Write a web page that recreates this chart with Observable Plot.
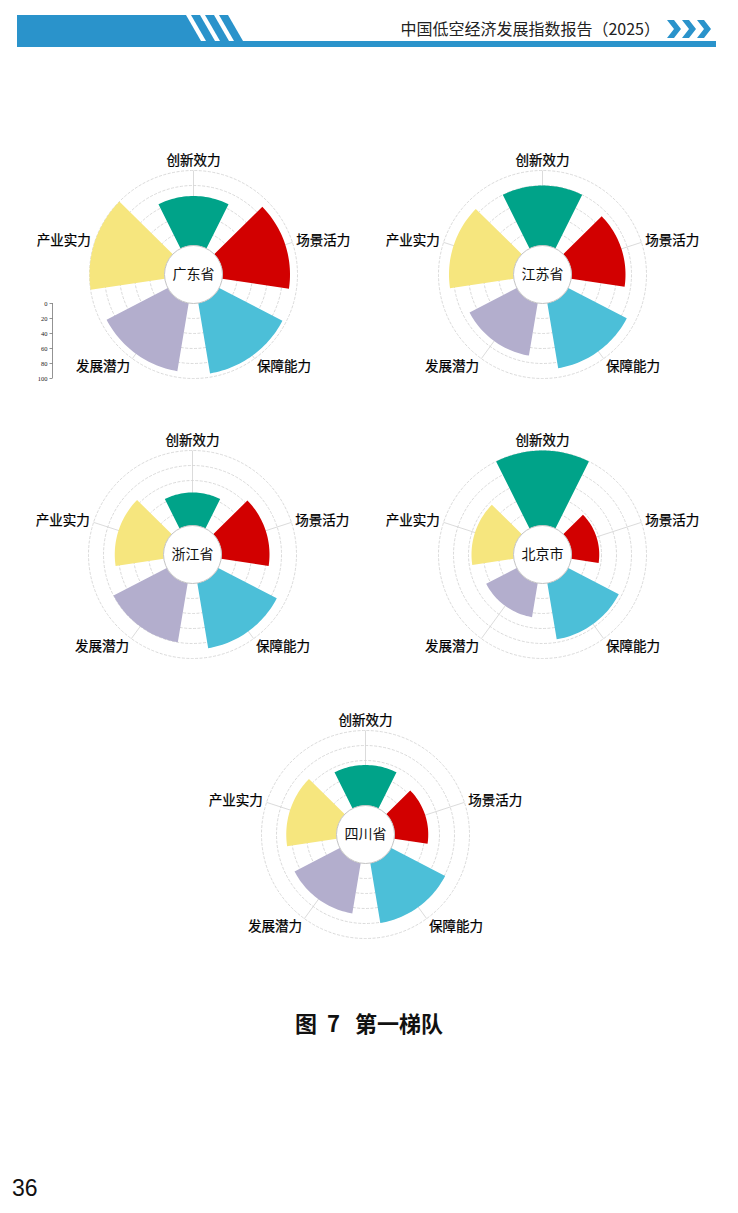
<!DOCTYPE html>
<html><head><meta charset="utf-8">
<script src="https://cdn.jsdelivr.net/npm/d3@7"></script>
<script src="https://cdn.jsdelivr.net/npm/@observablehq/plot@0.6"></script>
<style>
html,body{margin:0;padding:0;background:#fff;}
body{width:738px;height:1213px;position:relative;overflow:hidden;font-family:"Noto Sans CJK SC","Noto Sans",sans-serif;}
.abs{position:absolute;}
.chart svg{overflow:visible;}
</style></head><body>
<svg class="abs" style="left:0;top:0" width="738" height="60">
  <polygon points="17,15 186,15 201,41 17,41" fill="#2a93cb"/>
  <polygon points="191,15 200,15 215,41 206,41" fill="#2a93cb"/>
  <polygon points="205,15 214,15 229,41 220,41" fill="#2a93cb"/>
  <polygon points="219,15 228,15 243,41 234,41" fill="#2a93cb"/>
  <rect x="17" y="41" width="699" height="6" fill="#2a93cb"/>
  <polygon points="667,20 674,20 681,29 674,38 667,38 674,29" fill="#2a93cb"/>
  <polygon points="682,20 689,20 696,29 689,38 682,38 689,29" fill="#2a93cb"/>
  <polygon points="697,20 704,20 711,29 704,38 697,38 704,29" fill="#2a93cb"/>
</svg>
<div class="abs" style="right:78px;top:18px;font-size:16px;color:#222;line-height:21px;white-space:nowrap;">中国低空经济发展指数报告（2025）</div>
<div id="charts"></div>
<div class="abs" style="left:0;width:738px;top:1008px;text-align:center;font-size:22px;font-weight:700;color:#111;line-height:28px;white-space:nowrap;"><span style="margin-right:10px">图</span><span style="margin-right:15px">7</span><span>第一梯队</span></div>
<div class="abs" style="left:12px;top:1174px;font-size:23px;font-family:'Liberation Sans',sans-serif;color:#111;line-height:28px;">36</div>
<script>
const categories = ["创新效力","场景活力","保障能力","发展潜力","产业实力"];
const colors = ["#00a389","#d20000","#4cbfd8","#b3aecd","#f6e67e"];
const provinces = ["广东省","江苏省","浙江省","北京市","四川省"];
const guangdong = [66, 90, 95, 92, 100];
const jiangsu = [80, 72, 88, 71, 86];
const zhejiang = [44, 64, 88, 80, 65];
const beijing = [100, 37, 76, 46, 56];
const sichuan = [54, 45, 81, 68, 67];
const gridTicks = [0, 20, 40, 60, 80, 100];

const seriesList = [guangdong, jiangsu, zhejiang, beijing, sichuan];
// chart centres on the page
const layout = [[192.5,273.5],[541.5,273.5],[191.5,554],[541.5,554],[364.5,834]];

const rOpts = {type:"linear", domain:[0,100], range:[29,104]};
const rs = Plot.scale({r: rOpts});
const deg = Math.PI/180;
const step = 360/categories.length;
const half = 26.5;
const polar = (r,a) => ({x: r*Math.sin(a*deg), y: -r*Math.cos(a*deg)});
const FONT = '"Noto Sans CJK SC","Noto Sans",sans-serif';

function makeChart(name, values, showAxis){
  const sectors = [];
  categories.forEach((c,i)=>{
    const a0 = i*step - half, a1 = i*step + half, n = 30;
    const ro = rs.apply(values[i]), ri = rs.apply(0);
    for(let k=0;k<=n;k++) sectors.push({cat:c, ...polar(ro, a0+(a1-a0)*k/n)});
    for(let k=n;k>=0;k--) sectors.push({cat:c, ...polar(ri, a0+(a1-a0)*k/n)});
  });
  const spokes = categories.map((c,i)=>{
    const p1 = polar(rs.apply(0), i*step), p2 = polar(rs.apply(100), i*step);
    return {x1:p1.x, y1:p1.y, x2:p2.x, y2:p2.y};
  });
  const labelMarks = categories.map((c,i)=>{
    const a = i*step, co = Math.cos(a*deg), s = Math.sin(a*deg);
    const p = polar(co>0.5 ? 110 : 108, a);
    return Plot.text([c], {x:()=>p.x, y:()=>p.y, text:d=>d, fontSize:13.5, fill:"#000", stroke:"#000", strokeWidth:0.25,
      textAnchor: s>0.1?"start":(s<-0.1?"end":"middle"),
      lineAnchor: co>0.5?"bottom":(co<-0.5?"top":"middle")});
  });
  const axisX = -141;
  const axisMarks = showAxis ? [
    Plot.ruleX([axisX], {y1:()=>rs.apply(0), y2:()=>rs.apply(100), stroke:"#777", strokeWidth:0.8}),
    Plot.link(gridTicks, {x1:()=>axisX-3, x2:()=>axisX, y1:d=>rs.apply(d), y2:d=>rs.apply(d), stroke:"#777", strokeWidth:0.8}),
    Plot.text(gridTicks, {x:()=>axisX-5, y:d=>rs.apply(d), text:d=>String(d), textAnchor:"end", fontSize:6.5, fontFamily:'"Liberation Serif",serif', fill:"#222"})
  ] : [];
  return Plot.plot({
    width:340, height:250, margin:0,
    x:{domain:[-170,170], range:[0,340], axis:null},
    y:{domain:[-130,120], range:[0,250], axis:null},
    r: rOpts,
    color:{type:"ordinal", domain:categories, range:colors},
    style:{fontFamily:FONT, background:"transparent", overflow:"visible"},
    marks:[
      Plot.dot(gridTicks.filter(t=>t>0), {x:()=>0, y:()=>0, r:d=>d, fill:"none", stroke:"#d0d0d0", strokeWidth:0.8, strokeDasharray:"3,1.5"}),
      Plot.link(spokes, {x1:"x1", y1:"y1", x2:"x2", y2:"y2", stroke:"#d2d2d2", strokeWidth:0.8}),
      Plot.line(sectors, {x:"x", y:"y", z:"cat", fill:"cat", stroke:"none", curve:"linear-closed"}),
      Plot.dot([0], {x:()=>0, y:()=>0, r:d=>d, fill:"white", stroke:"#c4c4c4", strokeWidth:1}),
      Plot.text([name], {x:()=>0, y:()=>0, text:d=>d, fontSize:14, fill:"#111"}),
      ...labelMarks,
      ...axisMarks
    ]
  });
}

const host = document.getElementById("charts");
provinces.forEach((p,i)=>{
  const [cx,cy] = layout[i];
  const div = document.createElement("div");
  div.className = "abs chart";
  div.style.left = (cx-170)+"px";
  div.style.top = (cy-130)+"px";
  div.appendChild(makeChart(p, seriesList[i], i===0));
  host.appendChild(div);
});
</script>
</body></html>
